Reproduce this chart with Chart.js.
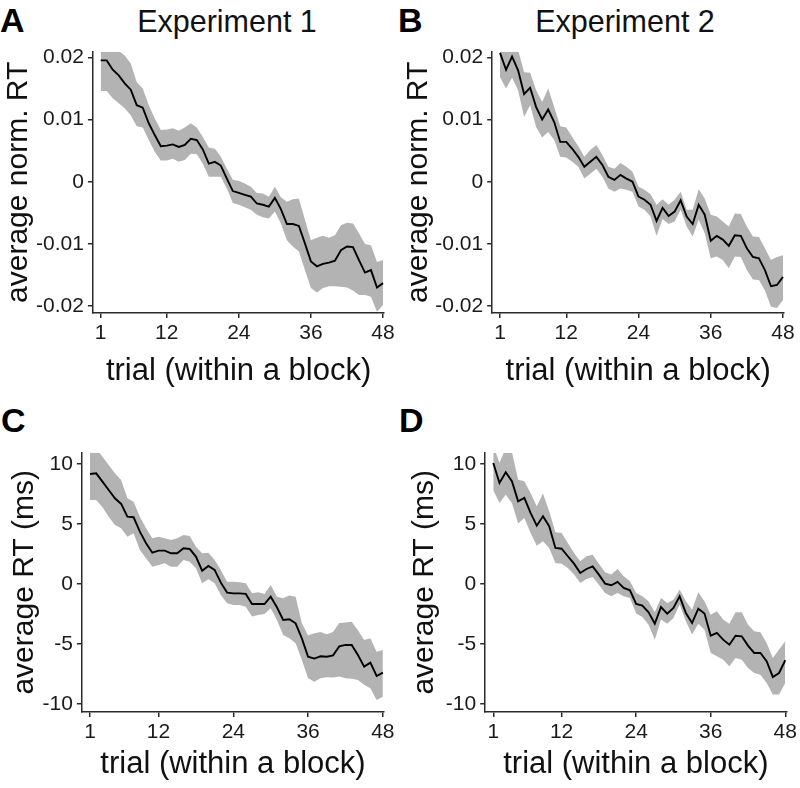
<!DOCTYPE html>
<html><head><meta charset="utf-8">
<script src="https://cdn.jsdelivr.net/npm/chart.js@4.4.1/dist/chart.umd.min.js"></script>
<style>
html,body{margin:0;padding:0;background:#fff;}
body{width:800px;height:788px;position:relative;overflow:hidden;font-family:"Liberation Sans",Arial,sans-serif;}
canvas{position:absolute;}
.t{position:absolute;width:300px;text-align:center;font-size:30.5px;line-height:30px;color:#111;white-space:nowrap;}
.l{position:absolute;font-size:34px;line-height:34px;font-weight:bold;color:#000;}
</style></head><body>
<div class="l" style="left:0px;top:3px">A</div>
<div class="l" style="left:398px;top:3px">B</div>
<div class="l" style="left:1px;top:403px">C</div>
<div class="l" style="left:399px;top:403px">D</div>
<div class="t" style="left:77px;top:6px">Experiment 1</div>
<div class="t" style="left:475px;top:6px">Experiment 2</div>
<canvas id="cA" width="400" height="400" style="left:0px;top:0px"></canvas>
<canvas id="cB" width="400" height="400" style="left:400px;top:0px"></canvas>
<canvas id="cC" width="400" height="388" style="left:0px;top:400px"></canvas>
<canvas id="cD" width="400" height="388" style="left:400px;top:400px"></canvas>
<script>
// ---------- data ----------
const trials = Array.from({length:48},(_,i)=>i+1);
const xTicks = [1,12,24,36,48];
const yTicksNorm = [-0.02,-0.01,0,0.01,0.02];
const yTicksMs = [-10,-5,0,5,10];

// Panel A: Experiment 1, normalized RT
const expA_mean = [0.0195,0.0195,0.0180,0.0171,0.0158,0.0148,0.0123,0.0119,0.0094,0.0075,
  0.0057,0.0058,0.0060,0.0056,0.0059,0.0069,0.0067,0.0052,0.0029,0.0032,
  0.0026,0.0005,-0.0015,-0.0018,-0.0021,-0.0024,-0.0035,-0.0037,-0.0040,-0.0026,
  -0.0044,-0.0068,-0.0068,-0.0071,-0.0099,-0.0128,-0.0136,-0.0132,-0.0130,-0.0127,
  -0.0110,-0.0104,-0.0105,-0.0126,-0.0146,-0.0142,-0.0170,-0.0163];
const expA_upper = [0.0220,0.0220,0.0215,0.0210,0.0203,0.0190,0.0160,0.0150,0.0123,0.0102,
  0.0083,0.0084,0.0086,0.0082,0.0087,0.0094,0.0087,0.0072,0.0055,0.0053,
  0.0040,0.0021,0.0003,0.0001,-0.0003,-0.0008,-0.0018,-0.0019,-0.0024,-0.0008,
  -0.0025,-0.0032,-0.0028,-0.0027,-0.0061,-0.0094,-0.0090,-0.0087,-0.0090,-0.0086,
  -0.0070,-0.0066,-0.0067,-0.0083,-0.0100,-0.0102,-0.0129,-0.0126];
const expA_lower = [0.0146,0.0146,0.0134,0.0126,0.0118,0.0107,0.0089,0.0087,0.0067,0.0048,
  0.0034,0.0034,0.0037,0.0032,0.0035,0.0045,0.0044,0.0029,0.0008,0.0008,
  0.0008,-0.0011,-0.0034,-0.0037,-0.0041,-0.0045,-0.0053,-0.0057,-0.0059,-0.0048,
  -0.0067,-0.0094,-0.0104,-0.0112,-0.0142,-0.0171,-0.0178,-0.0171,-0.0168,-0.0168,
  -0.0169,-0.0170,-0.0175,-0.0182,-0.0182,-0.0185,-0.0209,-0.0198];

// Panel B: Experiment 2, normalized RT
const expB_mean = [0.0207,0.0180,0.0201,0.0179,0.0141,0.0151,0.0120,0.0100,0.0116,0.0096,
  0.0064,0.0064,0.0053,0.0040,0.0024,0.0032,0.0040,0.0027,0.0008,0.0003,
  0.0011,0.0005,0.0000,-0.0024,-0.0029,-0.0037,-0.0063,-0.0042,-0.0055,-0.0048,
  -0.0030,-0.0056,-0.0068,-0.0037,-0.0053,-0.0095,-0.0087,-0.0093,-0.0103,-0.0086,
  -0.0087,-0.0107,-0.0121,-0.0123,-0.0142,-0.0168,-0.0166,-0.0153];
const expB_upper = [0.0220,0.0220,0.0220,0.0212,0.0176,0.0175,0.0147,0.0128,0.0150,0.0120,
  0.0089,0.0087,0.0072,0.0057,0.0040,0.0051,0.0059,0.0043,0.0024,0.0021,
  0.0030,0.0024,0.0016,-0.0008,-0.0013,-0.0020,-0.0037,-0.0028,-0.0037,-0.0029,
  -0.0016,-0.0045,-0.0045,-0.0012,-0.0027,-0.0053,-0.0056,-0.0064,-0.0072,-0.0051,
  -0.0052,-0.0072,-0.0088,-0.0089,-0.0107,-0.0126,-0.0121,-0.0118];
const expB_lower = [0.0168,0.0150,0.0167,0.0147,0.0104,0.0123,0.0088,0.0071,0.0080,0.0067,
  0.0040,0.0039,0.0032,0.0024,0.0005,0.0013,0.0021,0.0008,-0.0011,-0.0016,
  -0.0011,-0.0013,-0.0016,-0.0040,-0.0045,-0.0056,-0.0087,-0.0060,-0.0068,-0.0064,
  -0.0045,-0.0072,-0.0088,-0.0061,-0.0083,-0.0123,-0.0120,-0.0126,-0.0139,-0.0120,
  -0.0121,-0.0142,-0.0157,-0.0158,-0.0175,-0.0201,-0.0203,-0.0190];

// Panel C: Experiment 1, RT in ms
const expC_mean = [9.17,9.22,8.53,7.83,7.14,6.67,5.61,5.56,4.36,3.39,
  2.61,2.78,2.78,2.56,2.56,2.97,2.92,2.28,1.11,1.50,
  1.17,0.11,-0.72,-0.78,-0.78,-0.83,-1.67,-1.67,-1.67,-1.06,
  -1.94,-3.00,-2.94,-3.28,-4.53,-6.06,-6.22,-6.03,-6.06,-5.96,
  -5.20,-5.08,-5.08,-5.92,-6.89,-6.56,-7.67,-7.39];
const expC_upper = [11.5,11.3,10.6,9.92,9.22,8.67,7.14,6.86,5.61,4.64,
  3.81,3.94,3.81,3.67,3.81,4.08,4.00,3.11,2.56,2.61,
  2.00,1.17,0.19,0.19,0.14,0.06,-0.78,-0.69,-0.83,-0.08,
  -1.06,-1.19,-0.97,-1.06,-3.28,-4.30,-4.10,-4.00,-4.20,-4.00,
  -3.25,-3.22,-3.14,-3.86,-4.67,-4.53,-5.64,-5.50];
const expC_lower = [7.00,7.00,6.39,5.61,4.92,4.64,3.94,4.22,2.83,2.14,
  1.44,1.58,1.72,1.44,1.44,2.00,1.86,1.31,0.06,0.39,
  0.06,-0.92,-1.61,-1.75,-1.75,-1.89,-2.72,-2.58,-2.50,-2.03,
  -3.00,-4.25,-4.53,-4.94,-6.33,-7.86,-8.14,-7.86,-7.78,-7.80,
  -7.72,-7.86,-7.90,-8.00,-8.40,-8.69,-9.67,-9.39];

// Panel D: Experiment 2, RT in ms
const expD_mean = [10.08,8.42,9.31,8.56,6.89,7.17,5.92,4.86,5.64,4.81,
  3.00,2.94,2.31,1.69,0.92,1.25,1.47,0.78,0.03,-0.11,
  0.17,-0.33,-0.53,-1.67,-1.81,-2.36,-3.31,-1.92,-2.47,-2.00,
  -1.03,-2.42,-3.25,-2.06,-2.47,-4.31,-4.08,-4.64,-5.06,-4.31,
  -4.36,-5.14,-5.75,-5.75,-6.44,-7.75,-7.42,-6.36];
const expD_upper = [11.5,10.1,11.3,11.0,8.69,8.56,7.58,6.47,7.53,6.06,
  4.31,4.25,3.42,2.58,1.89,2.31,2.44,1.69,0.97,0.78,
  1.25,0.64,0.22,-0.75,-1.03,-1.44,-2.36,-1.17,-1.58,-1.31,
  -0.47,-1.44,-2.14,-0.69,-1.44,-2.56,-2.28,-2.97,-3.31,-2.36,
  -2.36,-3.39,-3.94,-4.03,-4.92,-6.17,-5.47,-4.78];
const expD_lower = [7.81,6.75,7.44,6.75,5.03,5.50,4.25,3.19,3.56,3.00,
  1.75,1.69,1.33,0.78,0.08,0.42,0.58,-0.06,-0.75,-1.03,
  -0.75,-1.03,-1.17,-2.47,-2.75,-3.39,-4.64,-2.97,-3.31,-2.83,
  -1.72,-3.11,-4.22,-3.31,-3.81,-5.75,-6.03,-6.31,-6.86,-6.17,
  -6.31,-7.00,-7.42,-7.56,-8.25,-9.22,-9.22,-8.25];

// ---------- drawing ----------
const FONT = '"Liberation Sans", Arial, Helvetica, sans-serif';
const AXIS_COLOR = '#2a2a2a';
const BAND = '#b3b3b3';

function makePanel(id, mean, upper, lower, yRange, yTicks, yFmt, yTitle, g) {
  const cv = document.getElementById(id);
  const W = cv.width, H = cv.height;
  new Chart(cv, {
    type: 'line',
    data: {
      labels: trials,
      datasets: [
        // index 0 is drawn last (on top)
        {data: mean, borderColor: '#000', borderWidth: 1.9, pointRadius: 0, fill: false, tension: 0},
        {data: upper, borderWidth: 0, pointRadius: 0, backgroundColor: BAND, fill: '+1', tension: 0},
        {data: lower, borderWidth: 0, pointRadius: 0, backgroundColor: BAND, fill: false, tension: 0}
      ]
    },
    options: {
      responsive: false, animation: false, devicePixelRatio: 1,
      layout: {padding: {left: 0, top: g.T, right: W - g.R, bottom: H - g.B - g.xh}},
      plugins: {legend: {display: false}, tooltip: {enabled: false}},
      scales: {
        x: {
          type: 'linear', min: -0.3, max: 48.2,
          afterBuildTicks: s => { s.ticks = xTicks.map(v => ({value: v})); },
          afterFit: s => { s.height = g.xh; },
          ticks: {autoSkip: false, maxRotation: 0, padding: 3, color: '#1a1a1a',
                  font: {family: FONT, size: 21}, callback: v => String(v)},
          grid: {drawOnChartArea: false, drawTicks: true, tickLength: 5, color: AXIS_COLOR, lineWidth: 1.5},
          border: {display: true, color: AXIS_COLOR, width: 1.5},
          title: {display: true, text: 'trial (within a block)', color: '#111',
                  font: {family: FONT, size: 31}, padding: {top: 0, bottom: g.xp}}
        },
        y: {
          type: 'linear', min: yRange[0], max: yRange[1],
          afterBuildTicks: s => { s.ticks = yTicks.map(v => ({value: v})); },
          afterFit: s => { s.width = g.L; },
          ticks: {padding: 4, color: '#1a1a1a', font: {family: FONT, size: 21}, callback: yFmt},
          grid: {drawOnChartArea: false, drawTicks: true, tickLength: 5, color: AXIS_COLOR, lineWidth: 1.5},
          border: {display: true, color: AXIS_COLOR, width: 1.5},
          title: {display: true, text: yTitle, color: '#111',
                  font: {family: FONT, size: 30}, padding: {top: g.yp, bottom: 0}}
        }
      }
    }
  });
}

const fmtNorm = v => (v === 0 ? '0' : v.toFixed(2));
const fmtMs = v => String(v);

makePanel('cA', expA_mean, expA_upper, expA_lower, [-0.0211, 0.0209], yTicksNorm, fmtNorm,
  'average norm. RT', {L: 92.9, R: 384.2, T: 51.7, B: 313, xh: 77, xp: 0, yp: 1});
makePanel('cB', expB_mean, expB_upper, expB_lower, [-0.0211, 0.0209], yTicksNorm, fmtNorm,
  'average norm. RT', {L: 92.2, R: 384.2, T: 51.7, B: 313, xh: 77, xp: 0, yp: 1});
makePanel('cC', expC_mean, expC_upper, expC_lower, [-10.67, 10.94], yTicksMs, fmtMs,
  'average RT (ms)', {L: 81.9, R: 384.1, T: 52.7, B: 312, xh: 71, xp: 0, yp: 7});
makePanel('cD', expD_mean, expD_upper, expD_lower, [-10.67, 10.94], yTicksMs, fmtMs,
  'average RT (ms)', {L: 85.2, R: 387.8, T: 52.7, B: 312, xh: 71, xp: 0, yp: 7});
</script>
</body></html>
